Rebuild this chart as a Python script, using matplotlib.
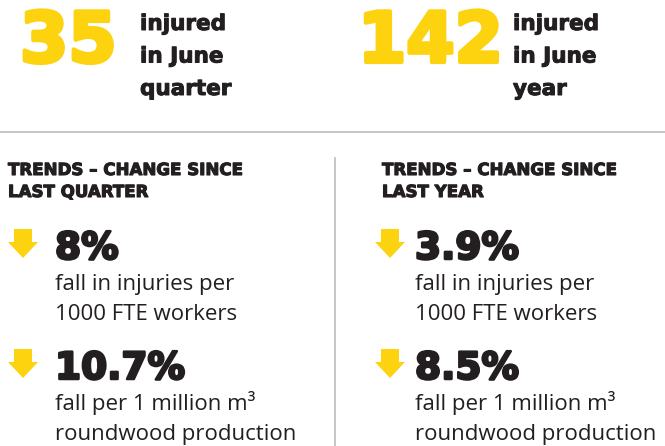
import matplotlib.pyplot as plt
import matplotlib.patheffects as pe
from matplotlib.patches import FancyArrow

# data
totals = ["35", "142"]
total_labels = [["injured", "in June", "quarter"], ["injured", "in June", "year"]]
headings = [["TRENDS \u2013 CHANGE SINCE", "LAST QUARTER"], ["TRENDS \u2013 CHANGE SINCE", "LAST YEAR"]]
injury_change = ["8%", "3.9%"]
production_change = ["10.7%", "8.5%"]
injury_desc = ["fall in injuries per", "1000 FTE workers"]
production_desc = ["fall per 1 million m\u00b3", "roundwood production"]

yellow = "#fdd20e"
dark = "#231f20"
heavy = "DejaVu Sans"
light = "Open Sans"

def fat(w, c):
    return [pe.withStroke(linewidth=w, foreground=c)]

fig = plt.figure(figsize=(6.65, 4.46), dpi=100)
ax = fig.add_axes([0, 0, 1, 1])
ax.set_xlim(0, 665)
ax.set_ylim(446, 0)
ax.axis("off")

# separators
ax.plot([0, 665], [132, 132], color="#bbbbbb", lw=1.2)
ax.plot([335, 335], [158, 446], color="#bbbbbb", lw=1.2)

num_x = [20, 358]
lab_x = [140, 513]
for i in range(2):
    ax.text(num_x[i], 62, totals[i], color=yellow, fontsize=50, fontweight="bold",
            family=heavy, va="baseline", ha="left", path_effects=fat(3, yellow))
    for j, s in enumerate(total_labels[i]):
        ax.text(lab_x[i], 30 + j * 32.5, s, color=dark, fontsize=15.5, fontweight="bold",
                family=heavy, va="baseline", path_effects=fat(0.7, dark))
    cx = [8, 382][i]
    for j, s in enumerate(headings[i]):
        ax.text(cx, 175 + j * 22, s, color=dark, fontsize=12, fontweight="bold",
                family=heavy, va="baseline", path_effects=fat(0.8, dark))
    ax_x = [23, 390][i]
    tx = [55, 415][i]
    for k, (val, desc) in enumerate([(injury_change[i], injury_desc), (production_change[i], production_desc)]):
        base = 258 + k * 120
        ax.add_patch(FancyArrow(ax_x, base - 29, 0, 29, width=18, head_width=30,
                                head_length=16, length_includes_head=True,
                                color=yellow, lw=0))
        ax.text(tx, base + 1, val, color=dark, fontsize=27, fontweight="bold",
                family=heavy, va="baseline", path_effects=fat(1.8, dark))
        for j, s in enumerate(desc):
            ax.text(tx, base + 32 + j * 30, s, color=dark, fontsize=16,
                    family=light, va="baseline")

fig.savefig("out.png", dpi=100)
